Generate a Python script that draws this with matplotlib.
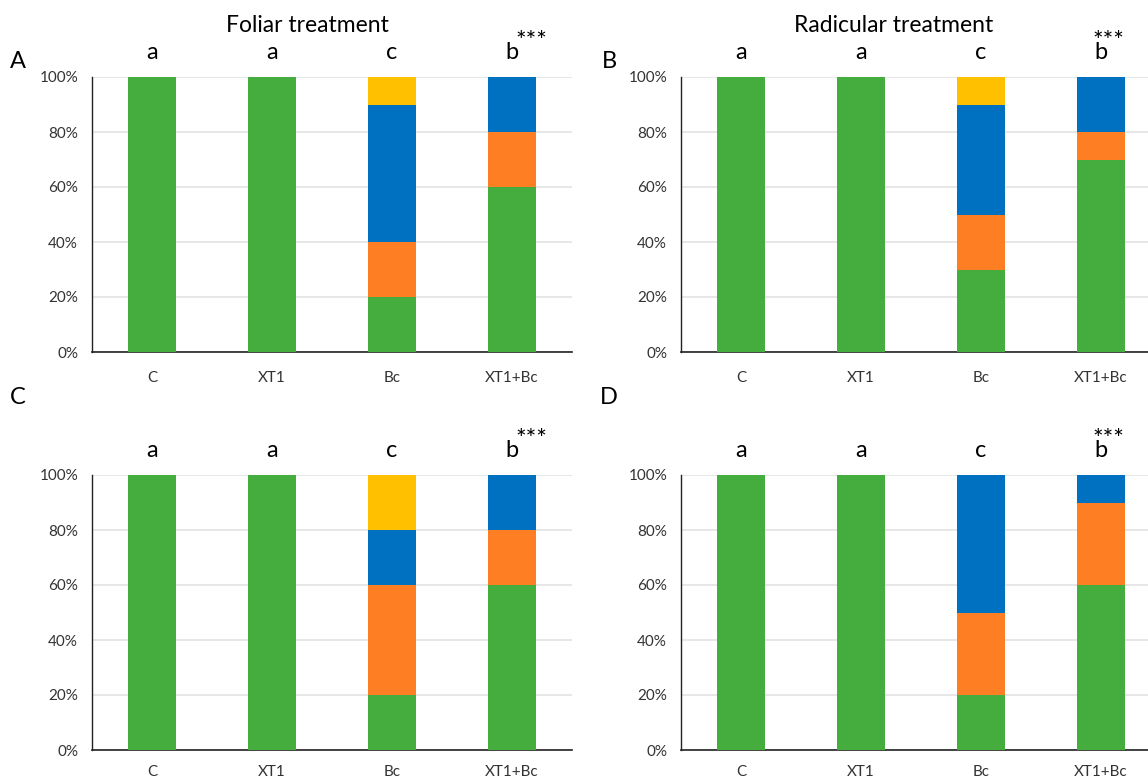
import matplotlib
matplotlib.use("Agg")
import matplotlib.pyplot as plt
import numpy as np

plt.rcParams['font.family'] = ['Lato', 'DejaVu Sans']

categories = ["C", "XT1", "Bc", "XT1+Bc"]
group_letters = ["a", "a", "c", "b"]
yticks = [0, 20, 40, 60, 80, 100]

# Percentage of plants per class, stacked bottom to top: green, orange, blue, yellow
green_A = [100, 100, 20, 60]
orange_A = [0, 0, 20, 20]
blue_A = [0, 0, 50, 20]
yellow_A = [0, 0, 10, 0]

green_B = [100, 100, 30, 70]
orange_B = [0, 0, 20, 10]
blue_B = [0, 0, 40, 20]
yellow_B = [0, 0, 10, 0]

green_C = [100, 100, 20, 60]
orange_C = [0, 0, 40, 20]
blue_C = [0, 0, 20, 20]
yellow_C = [0, 0, 20, 0]

green_D = [100, 100, 20, 60]
orange_D = [0, 0, 30, 30]
blue_D = [0, 0, 50, 10]
yellow_D = [0, 0, 0, 0]

colors = ["#45AD3E", "#FD7E23", "#0070C0", "#FFC000"]

W, H = 1148, 782
fig = plt.figure(figsize=(W / 100, H / 100), dpi=100)


def px_axes(left, top, right, bottom):
    return fig.add_axes([left / W, 1 - bottom / H, (right - left) / W, (bottom - top) / H])


def draw(ax, series, stars_dx, xpad):
    x = np.arange(len(categories))
    base = np.zeros(len(categories))
    for vals, col in zip(series, colors):
        vals = np.array(vals, dtype=float)
        ax.bar(x, vals, bottom=base, width=0.4, color=col, zorder=3, linewidth=0)
        base += vals
    ax.set_xlim(-0.5, 3.5)
    ax.set_ylim(0, 100)
    ax.set_yticks(yticks)
    ax.set_yticklabels([f"{v}%" for v in yticks], fontsize=11, color="#333333")
    ax.set_xticks(x)
    ax.set_xticklabels(categories, fontsize=11, color="#333333")
    ax.tick_params(axis="both", length=0)
    ax.tick_params(axis="y", pad=10)
    ax.tick_params(axis="x", pad=xpad)
    ax.grid(axis="y", color="#E3E3E3", linewidth=1.2, zorder=0)
    for s in ("top", "right"):
        ax.spines[s].set_visible(False)
    ax.spines["left"].set_color("#222222")
    ax.spines["bottom"].set_color("#222222")
    ax.spines["left"].set_linewidth(1.0)
    ax.spines["bottom"].set_linewidth(1.2)
    for xi, lab in zip(x, group_letters):
        ax.annotate(lab, (xi, 100), xytext=(0, 10), textcoords="offset points",
                    ha="center", va="bottom", fontsize=17, annotation_clip=False)
    ax.annotate("***", (3, 100), xytext=(stars_dx, 17), textcoords="offset points",
                ha="center", va="bottom", fontsize=18, annotation_clip=False)


axA = px_axes(92, 77, 572, 352)
axB = px_axes(681, 77, 1161, 352)
axC = px_axes(92, 475, 572, 750)
axD = px_axes(681, 475, 1161, 750)

draw(axA, [green_A, orange_A, blue_A, yellow_A], 14, 14)
draw(axB, [green_B, orange_B, blue_B, yellow_B], 5, 14)
draw(axC, [green_C, orange_C, blue_C, yellow_C], 14, 11)
draw(axD, [green_D, orange_D, blue_D, yellow_D], 5, 11)

fig.text(307 / W, 1 - 25 / H, "Foliar treatment", ha="center", va="center", fontsize=16.5)
fig.text(894 / W, 1 - 25 / H, "Radicular treatment", ha="center", va="center", fontsize=16.5)

for lab, xp, yp in [("A", 18, 62), ("B", 609, 62), ("C", 18, 398), ("D", 609, 398)]:
    fig.text(xp / W, 1 - yp / H, lab, ha="center", va="center", fontsize=17)

fig.savefig("out.png", dpi=100)
